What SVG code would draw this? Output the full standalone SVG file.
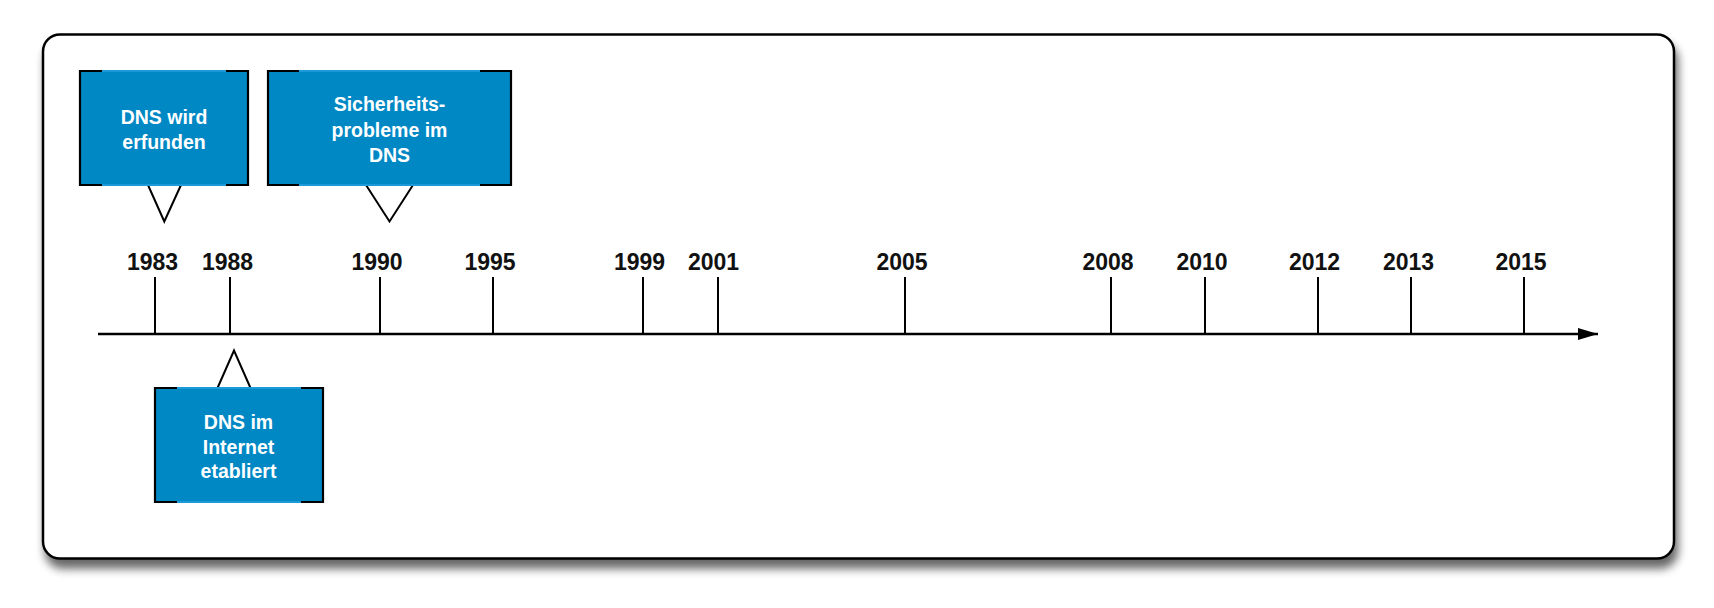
<svg xmlns="http://www.w3.org/2000/svg" width="1714" height="608" viewBox="0 0 1714 608">
  <defs>
    <filter id="shadow" x="-5%" y="-5%" width="110%" height="115%">
      <feGaussianBlur in="SourceAlpha" stdDeviation="5"/>
      <feOffset dx="3" dy="9" result="b"/>
      <feComponentTransfer><feFuncA type="linear" slope="0.6"/></feComponentTransfer>
      <feMerge><feMergeNode/><feMergeNode in="SourceGraphic"/></feMerge>
    </filter>
    <marker id="arrow" markerWidth="20" markerHeight="12" refX="20" refY="6" orient="auto" markerUnits="userSpaceOnUse">
      <path d="M0,0 L20,6 L0,12 Z" fill="#000"/>
    </marker>
  </defs>
  <style>
    .frame { fill: #fff; stroke: #000; stroke-width: 2.5; }
    .box { fill: #0088c5; }
    .edge { stroke: #1a9ad8; stroke-width: 2; }
    .side { stroke: #000; stroke-width: 2.2; fill: none; }
    .tri { fill: #fff; stroke: #000; stroke-width: 2; stroke-linejoin: miter; }
    .btxt { font-family: "Liberation Sans", Arial, sans-serif; font-weight: bold; font-size: 19.5px; fill: #fff; text-anchor: middle; }
    .year { font-family: "Liberation Sans", Arial, sans-serif; font-weight: bold; font-size: 23px; fill: #111; text-anchor: middle; }
    .tick { stroke: #000; stroke-width: 2; }
    .axis { stroke: #000; stroke-width: 2.5; fill: none; }
  </style>
  <rect width="1714" height="608" fill="#fff"/>
  <rect id="frame" class="frame" x="43" y="34.5" width="1631" height="524" rx="17" ry="17" filter="url(#shadow)"/>

  <g id="connectors">
    <line class="axis" x1="98" y1="334" x2="1598" y2="334" marker-end="url(#arrow)"/>
  </g>

  <g id="ticks">
    <g id="y1983"><line class="tick" x1="155" y1="277" x2="155" y2="334"/><text class="year" x="152.5" y="270">1983</text></g>
    <g id="y1988"><line class="tick" x1="230" y1="277" x2="230" y2="334"/><text class="year" x="227.5" y="270">1988</text></g>
    <g id="y1990"><line class="tick" x1="380" y1="277" x2="380" y2="334"/><text class="year" x="377" y="270">1990</text></g>
    <g id="y1995"><line class="tick" x1="493" y1="277" x2="493" y2="334"/><text class="year" x="490" y="270">1995</text></g>
    <g id="y1999"><line class="tick" x1="643" y1="277" x2="643" y2="334"/><text class="year" x="639.5" y="270">1999</text></g>
    <g id="y2001"><line class="tick" x1="718" y1="277" x2="718" y2="334"/><text class="year" x="713.5" y="270">2001</text></g>
    <g id="y2005"><line class="tick" x1="905" y1="277" x2="905" y2="334"/><text class="year" x="902" y="270">2005</text></g>
    <g id="y2008"><line class="tick" x1="1111" y1="277" x2="1111" y2="334"/><text class="year" x="1108" y="270">2008</text></g>
    <g id="y2010"><line class="tick" x1="1205" y1="277" x2="1205" y2="334"/><text class="year" x="1202" y="270">2010</text></g>
    <g id="y2012"><line class="tick" x1="1318" y1="277" x2="1318" y2="334"/><text class="year" x="1314.5" y="270">2012</text></g>
    <g id="y2013"><line class="tick" x1="1411" y1="277" x2="1411" y2="334"/><text class="year" x="1408.5" y="270">2013</text></g>
    <g id="y2015"><line class="tick" x1="1524" y1="277" x2="1524" y2="334"/><text class="year" x="1521" y="270">2015</text></g>
  </g>

  <g id="event-1983">
    <polyline class="tri" points="148,185 164.3,221.5 181,185"/>
    <rect class="box" x="80" y="71" width="168" height="114"/>
    <line class="edge" x1="80" y1="71" x2="248" y2="71"/>
    <line class="edge" x1="80" y1="185" x2="248" y2="185"/>
    <path class="side" d="M102,71 H80 V185 H102 M226,71 H248 V185 H226"/>
    <text class="btxt" x="164" y="124">DNS wird</text>
    <text class="btxt" x="164" y="149">erfunden</text>
  </g>

  <g id="event-1990">
    <polyline class="tri" points="366,185 389.5,221.5 413,185"/>
    <rect class="box" x="268" y="71" width="243" height="114"/>
    <line class="edge" x1="268" y1="71" x2="511" y2="71"/>
    <line class="edge" x1="268" y1="185" x2="511" y2="185"/>
    <path class="side" d="M299,71 H268 V185 H299 M480,71 H511 V185 H480"/>
    <text class="btxt" x="389.5" y="111">Sicherheits-</text>
    <text class="btxt" x="389.5" y="136.5">probleme im</text>
    <text class="btxt" x="389.5" y="161.5">DNS</text>
  </g>

  <g id="event-1988">
    <polyline class="tri" points="217.5,388 234,350.5 250.5,388"/>
    <rect class="box" x="155" y="388" width="168" height="114"/>
    <line class="edge" x1="155" y1="388" x2="323" y2="388"/>
    <line class="edge" x1="155" y1="502" x2="323" y2="502"/>
    <path class="side" d="M177,388 H155 V502 H177 M301,388 H323 V502 H301"/>
    <text class="btxt" x="238.5" y="428.5">DNS im</text>
    <text class="btxt" x="238.5" y="453.5">Internet</text>
    <text class="btxt" x="238.5" y="478">etabliert</text>
  </g>
</svg>
